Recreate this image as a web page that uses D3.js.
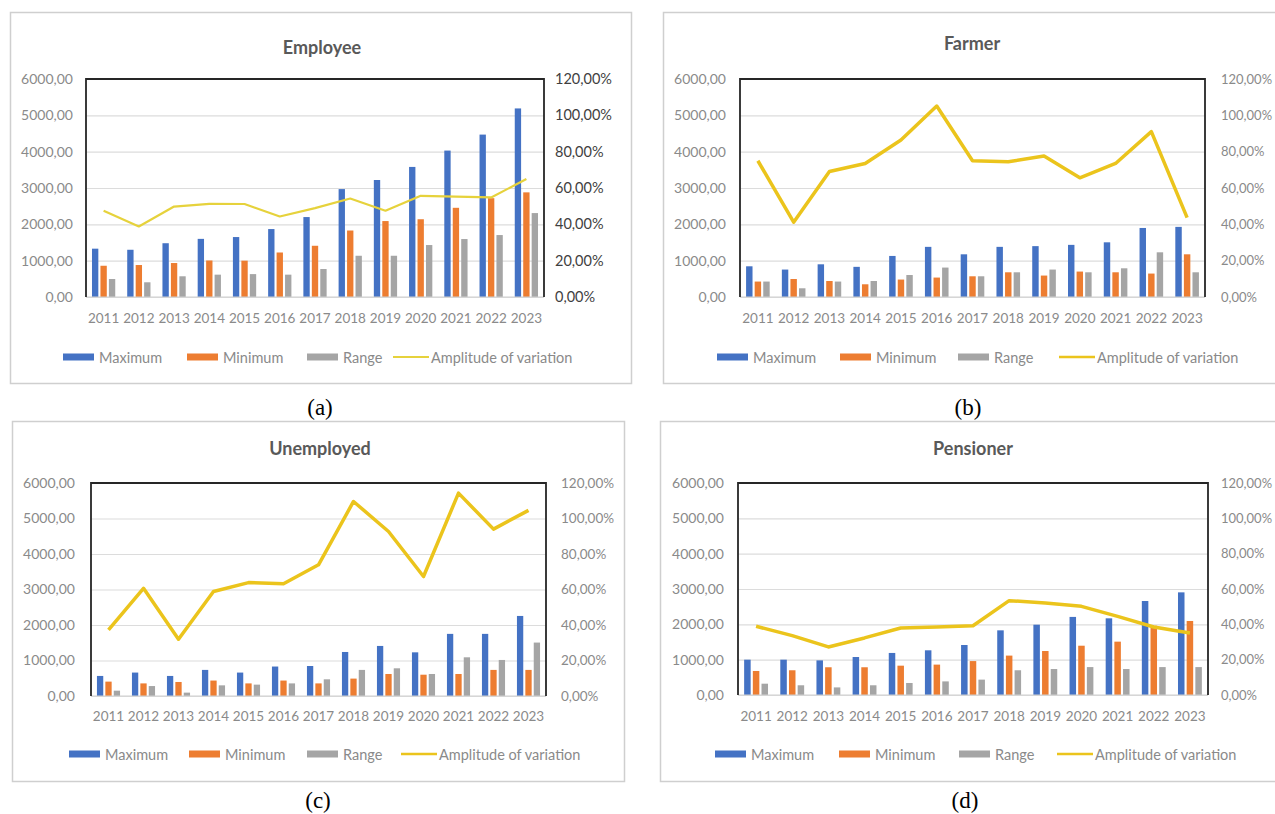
<!DOCTYPE html>
<html>
<head>
<meta charset="utf-8">
<script src="https://cdn.jsdelivr.net/npm/d3@7"></script>
<style>
  html, body { margin: 0; padding: 0; background: #fff; }
  svg { display: block; font-family: Lato, "Open Sans", sans-serif; }
</style>
</head>
<body>
<svg id="chart" width="1275" height="814"></svg>
<script>
// Years on the category axis
const years = ["2011","2012","2013","2014","2015","2016","2017","2018","2019","2020","2021","2022","2023"];

// Axis ticks
const leftTicks = [0, 1000, 2000, 3000, 4000, 5000, 6000];
const rightTicks = [0, 20, 40, 60, 80, 100, 120];

// Series labels
const seriesNames = ["Maximum", "Minimum", "Range", "Amplitude of variation"];

// Employee
const employeeMax   = [1330, 1300, 1480, 1600, 1650, 1870, 2200, 2970, 3220, 3580, 4030, 4470, 5190];
const employeeMin   = [860, 880, 935, 1005, 1000, 1225, 1410, 1830, 2090, 2140, 2455, 2720, 2880];
const employeeRange = [495, 405, 570, 615, 630, 615, 770, 1135, 1135, 1430, 1595, 1705, 2310];
const employeeAmp   = [47.5, 38.8, 49.8, 51.3, 51.2, 44.3, 48.9, 54.2, 47.5, 55.7, 55.3, 54.8, 64.9];

// Farmer
const farmerMax   = [845, 755, 900, 830, 1130, 1380, 1175, 1380, 1400, 1435, 1505, 1900, 1930];
const farmerMin   = [425, 495, 440, 350, 480, 535, 570, 680, 590, 700, 680, 645, 1175];
const farmerRange = [425, 240, 425, 440, 605, 810, 570, 680, 755, 680, 790, 1230, 680];
const farmerAmp   = [75.0, 41.2, 69.1, 73.5, 86.4, 105.1, 75.0, 74.4, 77.6, 65.6, 73.5, 91.0, 43.7];

// Unemployed
const unemployedMax   = [565, 660, 565, 735, 660, 830, 845, 1240, 1410, 1230, 1750, 1750, 2255];
const unemployedMin   = [405, 355, 395, 435, 355, 435, 355, 490, 620, 600, 620, 735, 735];
const unemployedRange = [150, 280, 95, 300, 320, 355, 470, 735, 780, 620, 1090, 1015, 1505];
const unemployedAmp   = [37.2, 60.7, 32.0, 58.9, 63.9, 63.2, 73.9, 109.6, 92.7, 67.3, 114.3, 94.0, 104.6];

// Pensioner
const pensionerMax   = [1000, 1000, 980, 1075, 1190, 1265, 1415, 1830, 1990, 2210, 2170, 2660, 2905];
const pensionerMin   = [680, 700, 785, 785, 830, 860, 960, 1115, 1245, 1395, 1510, 1960, 2095];
const pensionerRange = [320, 275, 215, 275, 340, 385, 435, 700, 735, 790, 735, 790, 790];
const pensionerAmp   = [38.9, 33.6, 27.2, 32.3, 37.9, 38.5, 39.2, 53.4, 52.1, 50.2, 44.5, 38.5, 35.1];

const colors = { max: "#4472C4", min: "#ED7D31", range: "#A5A5A5" };

// Layout of the four chart boxes
const panels = [
  { title: "Employee", caption: "(a)", max: employeeMax, min: employeeMin, range: employeeRange, amp: employeeAmp,
    frame: [10, 12, 631, 383], plot: [86, 544, 79, 297], titleXY: [322, 47], captionXY: [320, 407],
    yearY: 320, legendY: 357, legendX: [63, 187, 307, 393],
    rightLabelX: 555, leftLabelX: 73, lineColor: "#E6D23C", lineWidth: 2.2, rightSize: 14.5, rightColor: "#3f3f3f" },
  { title: "Farmer", caption: "(b)", max: farmerMax, min: farmerMin, range: farmerRange, amp: farmerAmp,
    frame: [663, 12, 1295, 383], plot: [740, 1205, 79, 297], titleXY: [972, 43], captionXY: [968, 407],
    yearY: 320, legendY: 357, legendX: [717, 840, 958, 1059],
    rightLabelX: 1221, leftLabelX: 726, lineColor: "#EBC41C", lineWidth: 3.5, rightSize: 13, rightColor: "#8a8a8a" },
  { title: "Unemployed", caption: "(c)", max: unemployedMax, min: unemployedMin, range: unemployedRange, amp: unemployedAmp,
    frame: [12, 421, 624, 781], plot: [91, 546, 483, 696], titleXY: [320, 448], captionXY: [318, 800],
    yearY: 718, legendY: 754, legendX: [69, 189, 307, 401],
    rightLabelX: 561, leftLabelX: 75, lineColor: "#EBC41C", lineWidth: 3.5, rightSize: 13.5, rightColor: "#8a8a8a" },
  { title: "Pensioner", caption: "(d)", max: pensionerMax, min: pensionerMin, range: pensionerRange, amp: pensionerAmp,
    frame: [660, 421, 1295, 781], plot: [738, 1208, 483, 695], titleXY: [973, 448], captionXY: [965, 800],
    yearY: 718, legendY: 754, legendX: [715, 839, 959, 1057],
    rightLabelX: 1221, leftLabelX: 724, lineColor: "#EBC41C", lineWidth: 3.5, rightSize: 13, rightColor: "#8a8a8a" }
];

const locale = d3.formatLocale({ decimal: ",", thousands: "", grouping: [3], currency: ["", ""] });
const fmtLeft = locale.format(".2f");
const fmtRight = v => locale.format(".2f")(v) + "%";

const svg = d3.select("#chart");
svg.append("rect").attr("width", 1275).attr("height", 814).attr("fill", "#fff");

panels.forEach(p => {
  const g = svg.append("g");
  const [fx0, fy0, fx1, fy1] = p.frame;
  const [px0, px1, py0, py1] = p.plot;

  // chart box
  g.append("rect")
    .attr("x", fx0 + 0.5).attr("y", fy0 + 0.5)
    .attr("width", fx1 - fx0).attr("height", fy1 - fy0)
    .attr("fill", "#fff").attr("stroke", "#cfcfcf").attr("stroke-width", 1.5);

  const x = d3.scaleBand().domain(years).range([px0, px1]).padding(0);
  const y = d3.scaleLinear().domain([0, 6000]).range([py1, py0]);
  const y2 = d3.scaleLinear().domain([0, 120]).range([py1, py0]);

  // gridlines
  g.append("g")
    .attr("transform", `translate(${px0},0)`)
    .call(d3.axisLeft(y).tickValues(leftTicks).tickSize(-(px1 - px0)).tickFormat(""))
    .call(a => a.select(".domain").remove())
    .call(a => a.selectAll("line").attr("stroke", "#dcdcdc").attr("stroke-width", 1.2));

  // left axis labels
  g.append("g")
    .attr("transform", `translate(${p.leftLabelX},0)`)
    .call(d3.axisLeft(y).tickValues(leftTicks).tickSize(0).tickPadding(0).tickFormat(fmtLeft))
    .call(a => a.select(".domain").remove())
    .call(a => a.selectAll("text").attr("fill", "#8a8a8a").attr("font-size", 14)
      .attr("font-family", "Lato, sans-serif"));

  // right axis labels
  g.append("g")
    .attr("transform", `translate(${p.rightLabelX},0)`)
    .call(d3.axisRight(y2).tickValues(rightTicks).tickSize(0).tickPadding(0).tickFormat(fmtRight))
    .call(a => a.select(".domain").remove())
    .call(a => a.selectAll("text").attr("fill", p.rightColor).attr("font-size", p.rightSize)
      .attr("font-family", "Lato, sans-serif"));

  // year labels
  g.append("g")
    .attr("transform", `translate(0,${p.yearY - 7})`)
    .call(d3.axisBottom(x).tickSize(0).tickPadding(0))
    .call(a => a.select(".domain").remove())
    .call(a => a.selectAll("text").attr("fill", "#8a8a8a").attr("font-size", 13.5)
      .attr("font-family", "Lato, sans-serif"));

  // bars
  const bw = x.bandwidth() * 0.18;
  const step = x.bandwidth() * 0.24;
  const series = [
    { vals: p.max, color: colors.max, k: -1 },
    { vals: p.min, color: colors.min, k: 0 },
    { vals: p.range, color: colors.range, k: 1 }
  ];
  series.forEach(s => {
    g.append("g").selectAll("rect")
      .data(s.vals)
      .join("rect")
      .attr("x", (d, i) => x(years[i]) + x.bandwidth() / 2 + s.k * step - bw / 2)
      .attr("y", d => y(d))
      .attr("width", bw)
      .attr("height", d => y(0) - y(d))
      .attr("fill", s.color);
  });

  // plot-area border: dark top and sides, light baseline
  g.append("line").attr("x1", px0).attr("x2", px1).attr("y1", py1).attr("y2", py1)
    .attr("stroke", "#d0d0d0").attr("stroke-width", 1.2);
  g.append("path")
    .attr("d", `M${px0},${py1}V${py0}H${px1}V${py1}`)
    .attr("fill", "none").attr("stroke", "#262626").attr("stroke-width", 1.8);

  // amplitude line
  const line = d3.line()
    .x((d, i) => x(years[i]) + x.bandwidth() / 2)
    .y(d => y2(d));
  g.append("path")
    .datum(p.amp)
    .attr("d", line)
    .attr("fill", "none")
    .attr("stroke", p.lineColor)
    .attr("stroke-width", p.lineWidth)
    .attr("stroke-linejoin", "round");

  // title
  g.append("text")
    .attr("x", p.titleXY[0]).attr("y", p.titleXY[1])
    .attr("text-anchor", "middle").attr("dominant-baseline", "central")
    .attr("font-size", 18).attr("font-weight", "bold").attr("fill", "#595959")
    .text(p.title);

  // legend
  const ly = p.legendY;
  const legendColors = [colors.max, colors.min, colors.range];
  seriesNames.forEach((name, i) => {
    const lx = p.legendX[i];
    let tx;
    if (i < 3) {
      g.append("rect").attr("x", lx).attr("y", ly - 3.5).attr("width", 31).attr("height", 7)
        .attr("fill", legendColors[i]);
      tx = lx + 36;
    } else {
      g.append("line").attr("x1", lx).attr("x2", lx + 36).attr("y1", ly).attr("y2", ly)
        .attr("stroke", p.lineColor).attr("stroke-width", Math.min(p.lineWidth, 2.5));
      tx = lx + 38;
    }
    g.append("text").attr("x", tx).attr("y", ly)
      .attr("dominant-baseline", "central")
      .attr("font-size", 14.5).attr("fill", "#8a8a8a")
      .text(name);
  });

  // caption under the box
  svg.append("text")
    .attr("x", p.captionXY[0]).attr("y", p.captionXY[1])
    .attr("text-anchor", "middle").attr("dominant-baseline", "central")
    .attr("font-family", "'Liberation Serif', 'DejaVu Serif', serif")
    .attr("font-size", 23).attr("fill", "#000")
    .text(p.caption);
});
</script>
</body>
</html>
